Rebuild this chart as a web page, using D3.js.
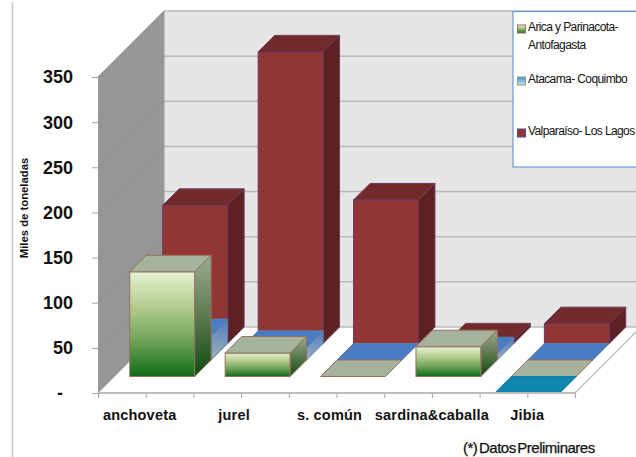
<!DOCTYPE html>
<html>
<head>
<meta charset="utf-8">
<script src="https://cdnjs.cloudflare.com/ajax/libs/d3/7.8.5/d3.min.js"></script>
<style>
html, body {margin: 0; padding: 0; background: #fff;}
svg {display: block;}
text {font-family: "Liberation Sans", Arial, sans-serif; fill: #111;}
</style>
</head>
<body>
<svg width="636" height="457"></svg>
<script>
var categories = ['anchoveta', 'jurel', 's. común', 'sardina&caballa', 'Jibia'];
var yTicks = [0, 50, 100, 150, 200, 250, 300, 350];

// null = nothing drawn, 0 = flat plate on the floor
var otra = [null, null, null, null, 0];
var arica = [116, 26, 0, 33, 0];
var atacama = [27, 14, 0, 7, 0];
var valparaiso = [153, 323, 159, 4, 22];

var svg = d3.select('svg');
var left = 98, right = 575, bottom = 393, top0 = 77;
var depth = 66; // px shift of the back wall, up and right
var rowDepth = depth / 4;

var x = d3.scaleBand().domain(categories).range([left, right]);
var y = d3.scaleLinear().domain([0, 350]).range([bottom, top0]);
var barW = x.bandwidth() * 0.68;
var gap = (x.bandwidth() - barW) / 2;

var looks = [
	{front: '#0e86ae', side: '#0b6d8e', top: '#0e86ae', stroke: '#0e7ea4'},
	{front: 'url(#gFront)', side: 'url(#gSide)', top: '#a6b39c', stroke: '#96705f'},
	{front: 'url(#bFront)', side: 'url(#bSide)', top: '#4a7cc6', stroke: '#5a7fa8'},
	{front: '#913535', side: '#5e2020', top: '#722a2a', stroke: '#6b3a62'}
];
var rows = [otra, arica, atacama, valparaiso];

// gradients
var defs = svg.append('defs');
function grad(id, stops) {
	var g = defs.append('linearGradient').attr('id', id)
		.attr('x1', 0).attr('y1', 0).attr('x2', 0).attr('y2', 1);
	stops.forEach(function(s, i) {
		g.append('stop').attr('offset', i / (stops.length - 1)).attr('stop-color', s);
	});
}
grad('gFront', ['#e4f0d2', '#b4cd8e', '#6da257', '#0f6b14']);
grad('gSide', ['#9dab8f', '#5d7a50', '#0c4a10']);
grad('bFront', ['#4a7cc6', '#7f9fc0']);
grad('bSide', ['#4f7cc0', '#9fb0b8']);
grad('lBlue', ['#4a90d8', '#c4e0f4']);

function pts(a) {
	return a.map(function(p) {return p.join(',');}).join(' ');
}

// frame line on the left of the picture
svg.append('line').attr('x1', 12.5).attr('x2', 12.5).attr('y1', 2).attr('y2', 457)
	.attr('stroke', '#c4c4c4').attr('stroke-width', 1.5);

// walls and floor
svg.append('polygon')
	.attr('points', pts([[left, y(0)], [left, y(350)], [left + depth, y(350) - depth], [left + depth, y(0) - depth]]))
	.attr('fill', '#969696');
svg.append('polygon')
	.attr('points', pts([[left + depth, y(350) - depth], [right + depth, y(350) - depth], [right + depth, y(0) - depth], [left + depth, y(0) - depth]]))
	.attr('fill', '#e6e6e6');
svg.append('polygon')
	.attr('points', pts([[left, y(0)], [right, y(0)], [right + depth, y(0) - depth], [left + depth, y(0) - depth]]))
	.attr('fill', '#fff');
svg.append('line').attr('x1', right).attr('y1', y(0)).attr('x2', right + depth).attr('y2', y(0) - depth)
	.attr('stroke', '#bdbdbd').attr('stroke-width', 1.5);

// gridlines
yTicks.forEach(function(t) {
	if (t > 0)
		svg.append('line').attr('x1', left + depth).attr('x2', right + depth)
			.attr('y1', y(t) - depth).attr('y2', y(t) - depth)
			.attr('stroke', '#b9b9b9').attr('stroke-width', 1.5);
	svg.append('line').attr('x1', left).attr('y1', y(t)).attr('x2', left + depth).attr('y2', y(t) - depth)
		.attr('stroke', t > 0 ? '#8e8e8e' : '#bdbdbd').attr('stroke-width', 1);
});
svg.append('line').attr('x1', left + depth).attr('x2', right + depth)
	.attr('y1', y(0) - depth).attr('y2', y(0) - depth)
	.attr('stroke', '#bdbdbd').attr('stroke-width', 1.5);
svg.append('line').attr('x1', left + depth).attr('x2', left + depth)
	.attr('y1', y(0) - depth).attr('y2', y(350) - depth)
	.attr('stroke', '#9a9a9a');

// bars, back row first
d3.range(rows.length - 1, -1, -1).forEach(function(r) {
	var look = looks[r];
	var d0 = r * rowDepth;
	var g = svg.append('g');
	categories.forEach(function(c, i) {
		var v = rows[r][i];
		if (v === null) return;
		var x0 = x(c) + gap + d0;
		var x1 = x0 + barW;
		var yb = y(0) - d0;
		var yt = y(v) - d0;
		var s = rowDepth;
		if (v > 0) {
			g.append('polygon').attr('points', pts([[x1, yb], [x1 + s, yb - s], [x1 + s, yt - s], [x1, yt]]))
				.attr('fill', look.side).attr('stroke', look.stroke);
			g.append('rect').attr('x', x0).attr('y', yt).attr('width', barW).attr('height', yb - yt)
				.attr('fill', look.front).attr('stroke', look.stroke);
		}
		g.append('polygon').attr('points', pts([[x0, yt], [x1, yt], [x1 + s, yt - s], [x0 + s, yt - s]]))
			.attr('fill', look.top).attr('stroke', look.stroke);
	});
});

// y axis
var yAxis = d3.axisLeft(y).tickValues(yTicks).tickSize(6).tickPadding(19)
	.tickFormat(function(d) {return d === 0 ? '-' : d;});
var ya = svg.append('g').attr('transform', 'translate(' + left + ',0)').call(yAxis);
ya.select('.domain').attr('stroke', '#9a9a9a');
ya.selectAll('.tick line').attr('stroke', '#a5a5a5');
ya.selectAll('text').attr('font-size', 18).attr('font-weight', 'bold')
	.attr('font-family', '"Liberation Sans", Arial, sans-serif').attr('fill', '#111').attr('dy', '.33em');
// the zero dash hangs further left than the numbers
ya.selectAll('.tick').filter(function(d) {return d === 0;}).select('text').attr('dx', -10);

// x axis
var tickVals = [];
categories.forEach(function(c) {
	tickVals.push(x(c));
	tickVals.push(x(c) + x.bandwidth() / 2);
});
tickVals.push(right);
var xTickScale = d3.scaleIdentity().domain([left, right]);
var xAxis = d3.axisBottom(xTickScale).tickValues(tickVals).tickSize(5).tickFormat('');
var xa = svg.append('g').attr('transform', 'translate(0,' + bottom + ')').call(xAxis);
xa.select('.domain').attr('stroke', '#bdbdbd').attr('stroke-width', 2).attr('d', 'M' + left + ',0H' + right);
xa.selectAll('.tick line').attr('stroke', '#a5a5a5');

var labelShift = [-6, -7, -7, 0, 0]; // labels sit a bit left of the band centre
svg.append('g').selectAll('text').data(categories).enter().append('text')
	.attr('x', function(d, i) {return x(d) + x.bandwidth() / 2 + labelShift[i];})
	.attr('y', 420)
	.attr('text-anchor', 'middle')
	.attr('font-size', 14.5)
	.attr('letter-spacing', 0.2)
	.attr('font-weight', 'bold')
	.text(function(d) {return d;});

// y title
svg.append('text')
	.attr('transform', 'translate(28,208) rotate(-90)')
	.attr('text-anchor', 'middle')
	.attr('font-size', 11.3)
	.attr('font-weight', 'bold')
	.text('Miles de toneladas');

// legend
svg.append('rect').attr('x', 513).attr('y', 11.5).attr('width', 130).attr('height', 155.5)
	.attr('fill', '#fff').attr('stroke', '#6a9ad6').attr('stroke-width', 1.2);
var legendRows = [
	{lines: ['Arica y Parinacota-', 'Antofagasta'], y: 25, fill: 'url(#gFront)', stroke: '#96705f'},
	{lines: ['Atacama- Coquimbo'], y: 77, fill: 'url(#lBlue)', stroke: '#8aa070'},
	{lines: ['Valparaíso- Los Lagos'], y: 129, fill: '#913535', stroke: '#5a4a8a'}
];
legendRows.forEach(function(l) {
	svg.append('rect').attr('x', 517.5).attr('y', l.y).attr('width', 8).attr('height', 8)
		.attr('fill', l.fill).attr('stroke', l.stroke);
	l.lines.forEach(function(t, i) {
		svg.append('text').attr('x', 528).attr('y', l.y + 6 + i * 18)
			.attr('font-size', 12).attr('letter-spacing', -0.6).attr('fill', '#222').text(t);
	});
});

// footnote
svg.append('text').attr('x', 463).attr('y', 453)
	.attr('font-size', 15).attr('letter-spacing', -0.5).attr('word-spacing', -2)
	.attr('stroke', '#111').attr('stroke-width', 0.25)
	.text('(*) Datos Preliminares');
</script>
</body>
</html>
